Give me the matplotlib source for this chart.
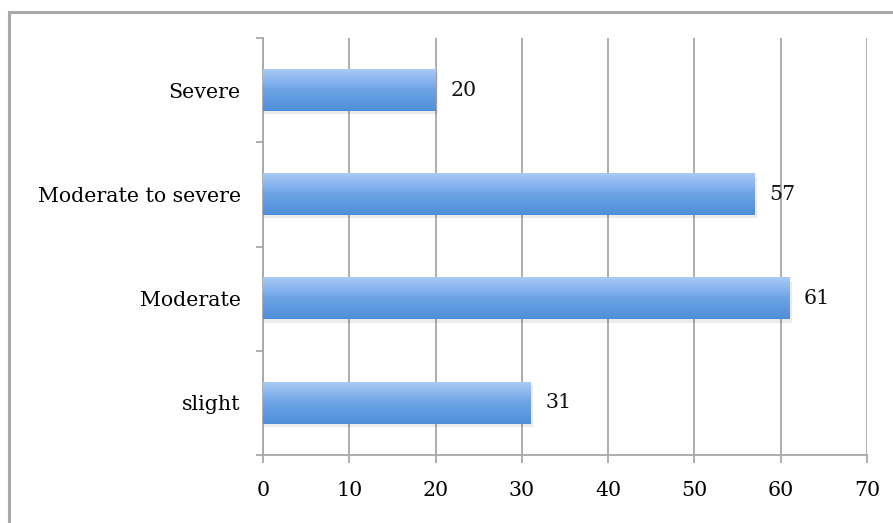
import matplotlib.pyplot as plt
import matplotlib.patches as mpatches
from matplotlib.colors import LinearSegmentedColormap
import numpy as np

categories = ["slight", "Moderate", "Moderate to severe", "Severe"]
values = [31, 61, 57, 20]
xticks = [0, 10, 20, 30, 40, 50, 60, 70]

plt.rcParams['font.family'] = ['DejaVu Serif']

fig = plt.figure(figsize=(8.93, 5.23), dpi=100)
ax = fig.add_axes([263/893, 1-455/523, (867-263)/893, (455-38)/523])

# outer chart frame (runs off the right and bottom edges)
frame = mpatches.Rectangle((9/893, -0.05), 1.0, 1-12/523+0.05, transform=fig.transFigure,
                           fill=False, edgecolor="#a9a9a9", linewidth=2.2)
fig.patches.append(frame)

grey = "#a8a8a8"
bar_h = 0.4
ypos = np.arange(len(categories))
fs = 14.8

# blue vertical gradient, light on top, darker at the bottom
cmap = LinearSegmentedColormap.from_list("bluebar", ["#4e8ed8", "#6da3e6", "#a9cbf6"])
grad = np.linspace(0, 1, 256).reshape(-1, 1)

ax.set_xlim(0, 70)
ax.set_ylim(-0.5, len(categories) - 0.5)

for y, v in zip(ypos, values):
    # soft shadow under the bar
    ax.add_patch(mpatches.Rectangle((0, y - bar_h/2 - 0.03), v + 0.25, bar_h, facecolor="#000000",
                                    alpha=0.08, edgecolor="none", zorder=2))
    ax.imshow(grad, cmap=cmap, aspect="auto", origin="lower",
              extent=(0, v, y - bar_h/2, y + bar_h/2), zorder=3)
    ax.text(v + 1.7, y, str(v), va="center", ha="left", fontsize=fs, color="#111111")

ax.set_xticks(xticks)
ax.set_xticklabels([str(t) for t in xticks], fontsize=fs)
ax.set_yticks(ypos)
ax.set_yticklabels(categories, fontsize=fs)
ax.set_yticks(np.arange(-0.5, len(categories)), minor=True)

ax.tick_params(axis="y", which="major", length=0, pad=16)
ax.tick_params(axis="y", which="minor", length=5, width=1.3, color=grey)
ax.tick_params(axis="x", length=6, width=1.3, color=grey, pad=13)

ax.grid(axis="x", color=grey, linewidth=1.3, zorder=0)
ax.set_axisbelow(True)
for s in ["top", "right"]:
    ax.spines[s].set_visible(False)
for s in ["left", "bottom"]:
    ax.spines[s].set_color(grey)
    ax.spines[s].set_linewidth(1.3)

fig.savefig("out.png", dpi=100)
